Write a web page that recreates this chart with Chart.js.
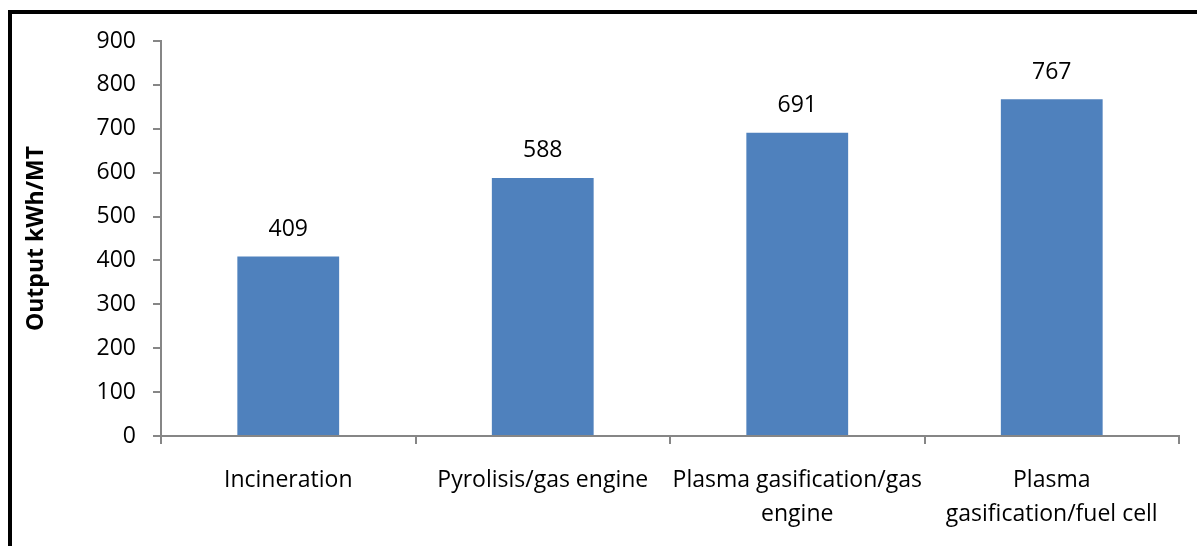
<!DOCTYPE html>
<html>
<head>
<meta charset="utf-8">
<script src="https://cdn.jsdelivr.net/npm/chart.js@4.4.1/dist/chart.umd.min.js"></script>
<style>
  html, body { margin: 0; padding: 0; background: #ffffff; }
  canvas { display: block; }
</style>
</head>
<body>
<canvas id="chart" width="1197" height="546"></canvas>
<script>
// Electricity output per metric ton of waste, by conversion technology
const categories = [
  'Incineration',
  'Pyrolisis/gas engine',
  ['Plasma gasification/gas', 'engine'],
  ['Plasma', 'gasification/fuel cell']
];
const outputKwhPerMt = [409, 588, 691, 767];
const yTicks = [0, 100, 200, 300, 400, 500, 600, 700, 800, 900];

const AXIS_GREY = '#868686';
const BAR_BLUE = '#4F81BD';
const FONT = '"Open Sans", "Noto Sans", sans-serif';

// White background plus the heavy frame on the left and top edges
const framePlugin = {
  id: 'frame',
  beforeDraw(chart) {
    const ctx = chart.ctx;
    ctx.save();
    ctx.fillStyle = '#ffffff';
    ctx.fillRect(0, 0, chart.width, chart.height);
    ctx.fillStyle = '#000000';
    ctx.fillRect(8, 10, chart.width - 8, 4);
    ctx.fillRect(8, 10, 4, chart.height - 10);
    ctx.restore();
  }
};

// Value written above each bar
const valueLabelPlugin = {
  id: 'valueLabels',
  afterDatasetsDraw(chart) {
    const ctx = chart.ctx;
    const meta = chart.getDatasetMeta(0);
    const values = chart.data.datasets[0].data;
    ctx.save();
    ctx.font = '23px ' + FONT;
    ctx.fillStyle = '#000000';
    ctx.textAlign = 'center';
    ctx.textBaseline = 'middle';
    meta.data.forEach((bar, i) => {
      ctx.fillText(String(values[i]), bar.x, bar.y - 27);
    });
    ctx.restore();
  }
};

new Chart(document.getElementById('chart'), {
  type: 'bar',
  data: {
    labels: categories,
    datasets: [{
      data: outputKwhPerMt,
      backgroundColor: BAR_BLUE,
      borderWidth: 0,
      categoryPercentage: 0.4,
      barPercentage: 1.0
    }]
  },
  options: {
    responsive: false,
    animation: false,
    devicePixelRatio: 1,
    layout: { padding: { left: 0, top: 41, right: 18, bottom: 0 } },
    plugins: {
      legend: { display: false },
      tooltip: { enabled: false }
    },
    scales: {
      x: {
        grid: {
          offset: true,
          drawOnChartArea: false,
          drawTicks: true,
          tickLength: 8,
          color: AXIS_GREY,
          lineWidth: 2
        },
        border: { color: AXIS_GREY, width: 2 },
        ticks: {
          color: '#000000',
          font: { family: FONT, size: 23, lineHeight: 1.48 },
          padding: 19,
          maxRotation: 0,
          autoSkip: false
        },
        afterFit(scale) { scale.height = 110; }
      },
      y: {
        min: 0,
        max: 900,
        afterBuildTicks(scale) {
          scale.ticks = yTicks.map(v => ({ value: v }));
        },
        grid: {
          drawOnChartArea: false,
          drawTicks: true,
          tickLength: 8,
          color: AXIS_GREY,
          lineWidth: 2
        },
        border: { color: AXIS_GREY, width: 2 },
        ticks: {
          color: '#000000',
          font: { family: FONT, size: 23 },
          padding: 17
        },
        title: {
          display: true,
          text: 'Output kWh/MT',
          color: '#000000',
          font: { family: FONT, size: 23, weight: 'bold', lineHeight: 1.2 },
          padding: { top: 23, bottom: 0 }
        },
        afterFit(scale) { scale.width = 161; }
      }
    }
  },
  plugins: [framePlugin, valueLabelPlugin]
});
</script>
</body>
</html>
